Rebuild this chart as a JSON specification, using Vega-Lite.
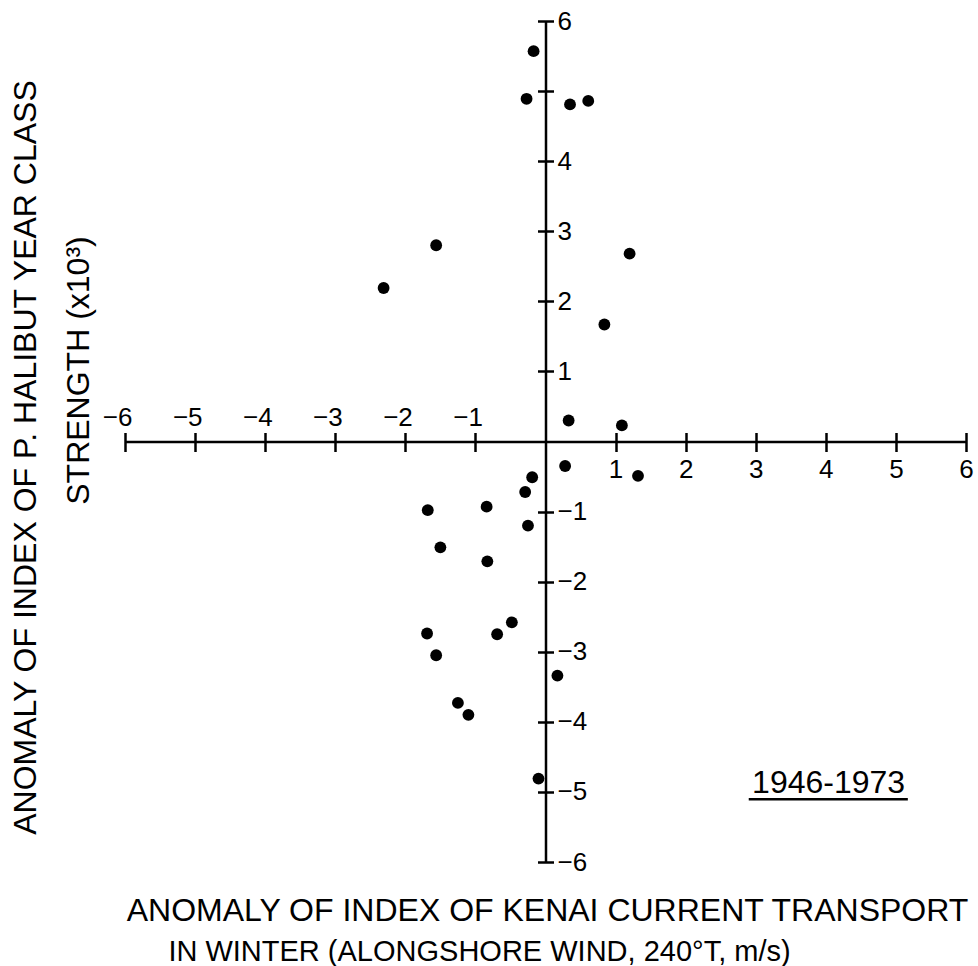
{
  "$schema": "https://vega.github.io/schema/vega-lite/v6.json",
  "width": 841,
  "height": 841,
  "autosize": {"type": "none"},
  "padding": {"left": 125, "top": 21, "right": 12, "bottom": 104},
  "background": "white",
  "config": {
    "view": {"stroke": null},
    "font": "Liberation Sans",
    "axis": {
      "grid": false,
      "domainColor": "black",
      "domainWidth": 2.5,
      "tickColor": "black",
      "tickWidth": 2.5,
      "labelColor": "black",
      "labelFont": "Liberation Sans",
      "labelFontSize": 26,
      "labelOverlap": false,
      "labelFlush": false,
      "labelBound": false,
      "titleColor": "black",
      "titleFont": "Liberation Sans",
      "titleFontSize": 32,
      "titleFontWeight": "normal"
    }
  },
  "datasets": {
    "pts": [
      {"kenai": -0.17, "halibut": 5.57},
      {"kenai": -0.27, "halibut": 4.89},
      {"kenai": 0.35, "halibut": 4.81},
      {"kenai": 0.61, "halibut": 4.86},
      {"kenai": -1.56, "halibut": 2.80},
      {"kenai": -2.31, "halibut": 2.19},
      {"kenai": 1.20, "halibut": 2.68},
      {"kenai": 0.84, "halibut": 1.67},
      {"kenai": 0.33, "halibut": 0.30},
      {"kenai": 1.09, "halibut": 0.23},
      {"kenai": 0.28, "halibut": -0.35},
      {"kenai": 1.32, "halibut": -0.49},
      {"kenai": -0.19, "halibut": -0.51},
      {"kenai": -0.29, "halibut": -0.72},
      {"kenai": -1.68, "halibut": -0.98},
      {"kenai": -0.84, "halibut": -0.93},
      {"kenai": -0.25, "halibut": -1.20},
      {"kenai": -1.50, "halibut": -1.51},
      {"kenai": -0.83, "halibut": -1.71},
      {"kenai": -1.69, "halibut": -2.74},
      {"kenai": -1.56, "halibut": -3.05},
      {"kenai": -0.69, "halibut": -2.75},
      {"kenai": -0.48, "halibut": -2.58},
      {"kenai": 0.17, "halibut": -3.34},
      {"kenai": -1.25, "halibut": -3.73},
      {"kenai": -1.10, "halibut": -3.90},
      {"kenai": -0.10, "halibut": -4.81}
    ],
    "note": [
      {"label": "1946-1973", "x": 4.04, "y": -5.016, "x1": 2.90, "x2": 5.17, "yu": -5.105}
    ]
  },
  "resolve": {"axis": {"x": "independent", "y": "independent"}},
  "layer": [
    {
      "data": {"name": "pts"},
      "mark": {"type": "point", "filled": true, "shape": "circle", "size": 140, "color": "black", "opacity": 1},
      "encoding": {
        "x": {
          "field": "kenai", "type": "quantitative",
          "scale": {"domain": [-6, 6], "nice": false, "zero": false},
          "axis": {
            "orient": "top", "offset": -420.5, "title": null,
            "values": [-6, -5, -4, -3, -2, -1, 1, 2, 3, 4, 5, 6],
            "tickSize": 9, "labelPadding": 7.5,
            "labelAlign": "right", "labelOffset": 7, "labelBaseline": "alphabetic",
            "labelExpr": "datum.value < 0 ? datum.label : ''"
          }
        },
        "y": {
          "field": "halibut", "type": "quantitative",
          "scale": {"domain": [-6, 6], "nice": false, "zero": false},
          "axis": {
            "orient": "right", "offset": -420.5, "title": null,
            "values": [-6, -5, -4, -3, -2, -1, 1, 2, 3, 4, 5, 6],
            "tickSize": 8, "labelPadding": 3.5,
            "labelAlign": "left", "labelBaseline": "middle",
            "labelExpr": "datum.value == 5 ? '' : datum.label"
          }
        }
      }
    },
    {
      "data": {"name": "note"},
      "mark": {"type": "text", "fontSize": 32, "font": "Liberation Sans", "color": "black", "align": "center", "baseline": "alphabetic"},
      "encoding": {
        "text": {"field": "label"},
        "x": {
          "field": "x", "type": "quantitative",
          "scale": {"domain": [-6, 6], "nice": false, "zero": false},
          "axis": {
            "orient": "bottom", "offset": -420.5, "title": null, "domain": false,
            "values": [-6, -5, -4, -3, -2, -1, 1, 2, 3, 4, 5, 6],
            "tickSize": 10, "labelPadding": 5,
            "labelAlign": "center", "labelBaseline": "top",
            "labelExpr": "datum.value > 0 ? datum.label : ''"
          }
        },
        "y": {
          "field": "y", "type": "quantitative",
          "scale": {"domain": [-6, 6], "nice": false, "zero": false},
          "axis": {
            "orient": "left", "offset": -420.5, "title": null, "domain": false,
            "values": [-6, -5, -4, -3, -2, -1, 1, 2, 3, 4, 5, 6],
            "tickSize": 8, "labels": false
          }
        }
      }
    },
    {
      "data": {"name": "note"},
      "mark": {"type": "rule", "color": "black", "strokeWidth": 2.5},
      "encoding": {
        "x": {
          "field": "x1", "type": "quantitative",
          "scale": {"domain": [-6, 6], "nice": false, "zero": false},
          "axis": {
            "orient": "bottom", "offset": 0, "domain": false, "ticks": false, "labels": false,
            "title": "ANOMALY OF INDEX OF KENAI CURRENT TRANSPORT",
            "titleX": 422, "titleY": 58, "titleAlign": "center", "titleBaseline": "alphabetic", "titleAngle": 0
          }
        },
        "x2": {"field": "x2"},
        "y": {
          "field": "yu", "type": "quantitative",
          "scale": {"domain": [-6, 6], "nice": false, "zero": false},
          "axis": {
            "orient": "left", "offset": 0, "domain": false, "ticks": false, "labels": false,
            "title": "ANOMALY OF INDEX OF P. HALIBUT YEAR CLASS",
            "titleX": -90, "titleY": 436, "titleAlign": "center", "titleBaseline": "alphabetic", "titleAngle": -90
          }
        }
      }
    },
    {
      "data": {"name": "pts"},
      "mark": {"type": "point", "filled": true, "shape": "circle", "size": 140, "color": "black", "opacity": 0},
      "encoding": {
        "x": {
          "field": "kenai", "type": "quantitative",
          "scale": {"domain": [-6, 6], "nice": false, "zero": false},
          "axis": {
            "orient": "bottom", "offset": 0, "domain": false, "ticks": false, "labels": false,
            "title": "IN WINTER (ALONGSHORE WIND, 240°T, m/s)",
            "titleFontSize": 29,
            "titleX": 354, "titleY": 98, "titleAlign": "center", "titleBaseline": "alphabetic", "titleAngle": 0
          }
        },
        "y": {
          "field": "halibut", "type": "quantitative",
          "scale": {"domain": [-6, 6], "nice": false, "zero": false},
          "axis": {
            "orient": "left", "offset": 0, "domain": false, "ticks": false, "labels": false,
            "title": "STRENGTH (x10³)",
            "titleX": -37, "titleY": 349, "titleAlign": "center", "titleBaseline": "alphabetic", "titleAngle": -90
          }
        }
      }
    }
  ]
}
